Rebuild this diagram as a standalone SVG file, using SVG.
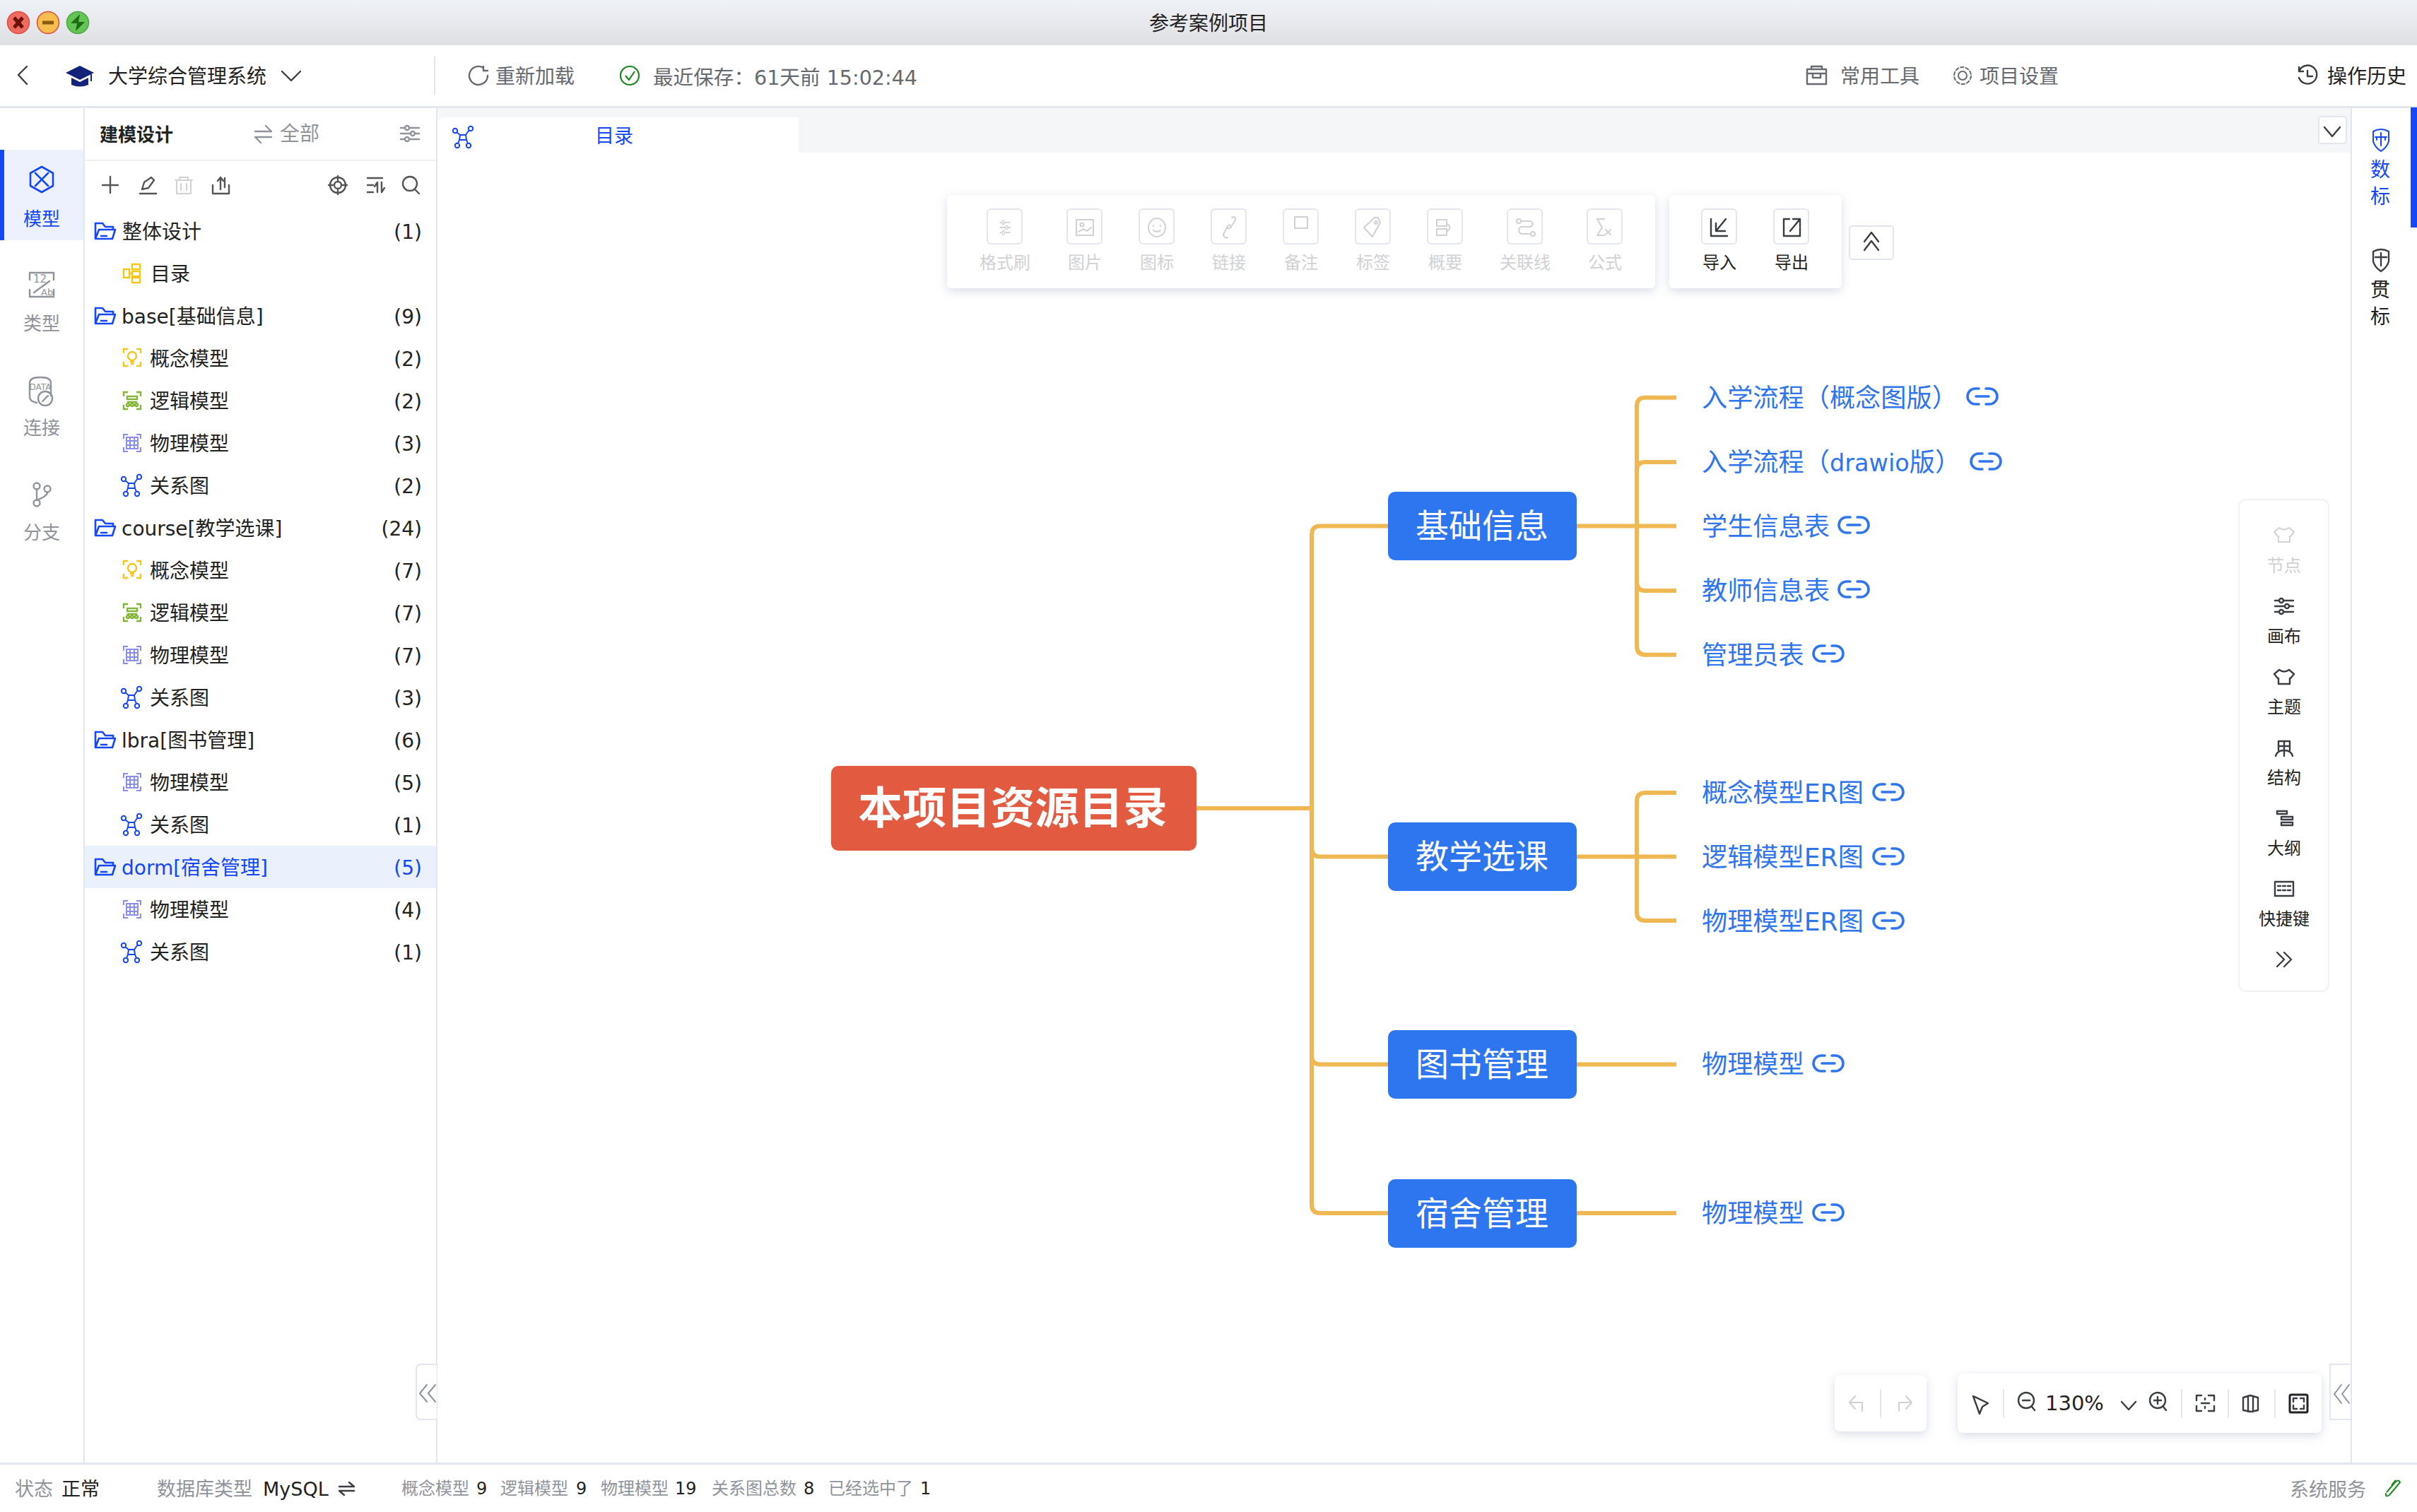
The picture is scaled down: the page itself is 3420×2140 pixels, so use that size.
<svg xmlns="http://www.w3.org/2000/svg" width="3420" height="2140" viewBox="0 0 3420 2140">
<style>
text{font-family:"DejaVu Sans","Noto Sans CJK SC",sans-serif;fill:#222}
.t28{font-size:28px}.t27{font-size:27px}.t26{font-size:26px}.t24{font-size:24px}
.g{fill:#8f949c}.mg{fill:#666a70}.lg{fill:#cfd1d5}.b{fill:#1447f5}
.c{text-anchor:middle}.r{text-anchor:end}
.leaf{font-size:36.2px;fill:#2e75ee}
.node{font-size:47px;text-anchor:middle}
.i{fill:none;stroke:#3a3d42;stroke-width:2.4;stroke-linecap:round;stroke-linejoin:round}
.ig{fill:none;stroke:#8f949c;stroke-width:2.4;stroke-linecap:round;stroke-linejoin:round}
.il{fill:none;stroke:#cfd1d5;stroke-width:2;stroke-linecap:round;stroke-linejoin:round}
.ib{fill:none;stroke:#1447f5;stroke-width:2.6;stroke-linecap:round;stroke-linejoin:round}
.btn{fill:#fff;stroke:#e3e6ef;stroke-width:2}
.conn{fill:none;stroke:#efb852;stroke-width:6}
.sep{stroke:#e3e6ef;stroke-width:2}
</style>
<defs>
<linearGradient id="tb" x1="0" y1="0" x2="0" y2="1"><stop offset="0" stop-color="#eff2f7"/><stop offset="1" stop-color="#dfe0e4"/></linearGradient>
<filter id="sh" x="-10%" y="-30%" width="120%" height="170%"><feDropShadow dx="0" dy="4" stdDeviation="7" flood-color="#aab2c8" flood-opacity=".45"/></filter>
<g id="folder"><path class="ib" d="M-14 11V-11H-4L0-6H11V-2M-14 11H10L14-2H-9Z"/><path class="ib" d="M-6 7H2"/></g>
<g id="rel" fill="none" stroke="#1447f5" stroke-width="2"><circle cx="-11" cy="-9" r="3.2"/><circle cx="11" cy="-12" r="3.200"/><circle cx="-8" cy="12" r="3.200"/><circle cx="8" cy="12" r="3.200"/><path d="M-8.500-6.500L-4-3M8.500-9.500L4-3M-4-3H4L5 4H-5ZM-5 4L-7 9M5 4L7 9"/></g>
<g id="concept" fill="none" stroke="#f5c518" stroke-width="2.400"><path d="M-12-6V-12H-6M6-12H12V-6M12 6V12H6M-6 12H-12V6"/><circle cx="0" cy="-2" r="6"/><path d="M-3 6H3M-2 9H2"/></g>
<g id="logical" fill="none" stroke="#82b536" stroke-width="2.400"><path d="M-12-6V-12H-6M6-12H12V-6M12 6V12H6M-6 12H-12V6"/><rect x="-7" y="-6" width="14" height="4"/><path d="M-7 2H7"/><circle cx="-6" cy="6" r="2"/><circle cx="0" cy="6" r="2"/><circle cx="6" cy="6" r="2"/></g>
<g id="physical" fill="none" stroke="#8a8df0" stroke-width="2"><path d="M-12-6V-12H-6M6-12H12V-6M12 6V12H6M-6 12H-12V6"/><rect x="-8" y="-8" width="16" height="16"/><path d="M-3-8V8M3-8V8M-8-3H8M-8 3H8"/></g>
<g id="link" fill="none" stroke="#2e75ee" stroke-width="3.600" stroke-linecap="round"><path d="M-5-11H-10A11 11 0 0 0-10 11H-5M5-11H10A11 11 0 0 1 10 11H5M-9 0H9"/></g>
<g id="sliders"><path d="M-13-8H13M-13 0H13M-13 8H13"/><circle cx="-4" cy="-8" r="3" fill="#fff"/><circle cx="4" cy="0" r="3" fill="#fff"/><circle cx="-4" cy="8" r="3" fill="#fff"/></g>
<g id="shirt"><path d="M-7-10Q0-5 7-10L14-4 9 2H8V10H-8V2H-9L-14-4Z"/></g>
</defs>

<g id="app-frame">
<rect width="3420" height="2140" fill="#fff"/>
<rect width="3420" height="64" fill="url(#tb)"/>
<ellipse cx="26" cy="32" rx="15.500" ry="15.500" fill="#ee6b60" stroke="#e5483b" stroke-width="1.500"/>
<path d="M20 25L32 39M32 25L20 39" stroke="#6b1208" stroke-width="5"/>
<ellipse cx="68" cy="32" rx="15.500" ry="15.500" fill="#f6bd4f" stroke="#e5483b" stroke-width="1.500"/>
<path d="M60 32H76" stroke="#8a5a10" stroke-width="5"/>
<ellipse cx="110" cy="32" rx="15.500" ry="15.500" fill="#62c554" stroke="#4aa53e" stroke-width="1.500"/>
<path d="M113 20L100 33H109L107 44 120 31H111Z" fill="#1f6b14"/>
<text class="t28 c" x="1710" y="43">参考案例项目</text>
<rect x="0" y="150" width="3420" height="3" fill="#e3e6ef"/>
<rect x="0" y="2070" width="3420" height="3" fill="#e3e6ef"/>
<rect x="118" y="153" width="2" height="1917" fill="#e3e6ef"/>
<rect x="617" y="153" width="2" height="1917" fill="#e3e6ef"/>
<rect x="3326" y="153" width="2" height="1917" fill="#e3e6ef"/>
<rect x="614" y="80" width="2" height="54" fill="#e3e6ef"/>
</g>

<g id="header">
<path class="i" d="M38 94L26 106 38 119"/>
<path d="M113 93L133 103 113 113 93 103Z" fill="#14237a"/><path d="M101 110V120Q113 125 125 120V110L113 116Z" fill="#14237a"/><path d="M129 105V115" stroke="#14237a" stroke-width="2"/>
<text class="t28" x="153" y="118">大学综合管理系统</text>
<path class="i" d="M399 101L412 114 425 101"/>
<path class="ig" style="stroke:#666a70" d="M684 96A13 13 0 1 0 690 107M684 94V100H690"/>
<text class="t28 mg" x="701" y="118">重新加载</text>
<circle cx="891" cy="107" r="13" fill="none" stroke="#1a8a1a" stroke-width="2.200"/><path d="M885 107L890 113 898 101" fill="none" stroke="#1a8a1a" stroke-width="2.200"/>
<text font-size="28.600" class="mg" x="924" y="120">最近保存：61天前 15:02:44</text>
<path class="ig" style="stroke:#666a70" d="M2557 104H2584M2557 98H2584V119H2557ZM2563 98V94H2578V98M2565 104V110H2576V104"/>
<text class="t28 mg" x="2604" y="118">常用工具</text>
<circle cx="2777" cy="107" r="6" fill="none" stroke="#666a70" stroke-width="2"/><circle cx="2777" cy="107" r="12" fill="none" stroke="#666a70" stroke-width="2" stroke-dasharray="6 1.500"/>
<text class="t28 mg" x="2801" y="118">项目设置</text>
<path class="i" d="M3254 99A13 13 0 1 1 3253 110M3253 95V101H3259M3265 100V108H3272"/>
<text class="t28" x="3293" y="118">操作历史</text>
</g>

<g id="left-rail">
<rect x="0" y="212" width="118" height="128" fill="#edf1fe"/>
<rect x="0" y="212" width="6" height="128" fill="#1447f5"/>
<path class="ib" d="M59 236L75 245V263L59 272 43 263V245Z"/><path class="ib" d="M50 245L68 263M68 245L50 263"/>
<text class="t26 c b" x="59" y="319">模型</text>
<g class="ig"><path d="M42 396V386H76V396M42 410V420H76V410M48 414L70 398"/></g>
<text x="47" y="400" font-size="15" class="g">12</text><text x="58" y="418" font-size="13" class="g">Ab</text>
<text class="t26 c g" x="59" y="467">类型</text>
<g class="ig"><path d="M42 542Q42 534 57 534 72 534 72 542V560M42 542V562Q42 568 52 570"/><circle cx="64" cy="564" r="10"/><path d="M60 568L68 560"/></g>
<text x="57" y="552" font-size="12" class="g c">DATA</text>
<text class="t26 c g" x="59" y="615">连接</text>
<g class="ig"><circle cx="52" cy="688" r="4.500"/><circle cx="52" cy="712" r="4.500"/><circle cx="67" cy="692" r="4.500"/><path d="M52 692V708M67 697Q67 702 52 708"/></g>
<text class="t26 c g" x="59" y="763">分支</text>
</g>

<g id="tree-panel">
<text class="t26" x="141" y="200" font-weight="700">建模设计</text>
<path class="ig" d="M361 186H384L376 178M384 194H361L369 202"/>
<text class="t28 g" x="396" y="199">全部</text>
<g class="ig"><use href="#sliders" x="580" y="189"/></g>
<rect x="120" y="226" width="497" height="2" fill="#eff1f4"/>
<path class="ig" style="stroke:#555" d="M156 250V273M145 262H167M198 274H221M201 268L204 258 214 251 218 255 210 266Z"/>
<path class="il" d="M248 255H272M254 255V251H266V255M250 255V274H270V255M256 260V269M264 260V269"/>
<path class="ig" style="stroke:#555" d="M301 262V274H324V262M312 251V268M308 256L312 251 316 256M318 252V265"/>
<g class="ig" style="stroke:#555"><circle cx="478" cy="262" r="11"/><circle cx="478" cy="262" r="5"/><path d="M478 249V255M478 269V275M465 262H471M485 262H491"/>
<path d="M520 252H541M520 262H528M520 272H528M534 272V258L530 264M540 258V272L544 266"/><circle cx="580" cy="260" r="10"/><path d="M587 268L593 274"/></g>
<rect x="120" y="1197" width="497" height="60" fill="#ebf0fd"/>
<g id="tree-rows">
<use href="#folder" x="149" y="327"/><text class="t28" x="173" y="338">整体设计</text><text class="t28 r" x="597" y="338">(1)</text>
<g fill="none" stroke="#f5c518" stroke-width="2.400"><rect x="175" y="381" width="8" height="12"/><rect x="187" y="374" width="11" height="7"/><rect x="187" y="384" width="11" height="7"/><rect x="187" y="393" width="11" height="7"/><path d="M183 387H187"/></g><text class="t28" x="213" y="398">目录</text>
<use href="#folder" x="149" y="447"/><text class="t28" x="172" y="458">base[基础信息]</text><text class="t28 r" x="597" y="458">(9)</text>
<use href="#concept" x="187" y="506"/><text class="t28" x="212" y="518">概念模型</text><text class="t28 r" x="597" y="518">(2)</text>
<use href="#logical" x="187" y="567"/><text class="t28" x="212" y="578">逻辑模型</text><text class="t28 r" x="597" y="578">(2)</text>
<use href="#physical" x="187" y="627"/><text class="t28" x="212" y="638">物理模型</text><text class="t28 r" x="597" y="638">(3)</text>
<use href="#rel" x="186" y="687"/><text class="t28" x="212" y="698">关系图</text><text class="t28 r" x="597" y="698">(2)</text>
<use href="#folder" x="149" y="747"/><text class="t28" x="172" y="758">course[教学选课]</text><text class="t28 r" x="597" y="758">(24)</text>
<use href="#concept" x="187" y="806"/><text class="t28" x="212" y="818">概念模型</text><text class="t28 r" x="597" y="818">(7)</text>
<use href="#logical" x="187" y="867"/><text class="t28" x="212" y="878">逻辑模型</text><text class="t28 r" x="597" y="878">(7)</text>
<use href="#physical" x="187" y="927"/><text class="t28" x="212" y="938">物理模型</text><text class="t28 r" x="597" y="938">(7)</text>
<use href="#rel" x="186" y="987"/><text class="t28" x="212" y="998">关系图</text><text class="t28 r" x="597" y="998">(3)</text>
<use href="#folder" x="149" y="1047"/><text class="t28" x="172" y="1058">lbra[图书管理]</text><text class="t28 r" x="597" y="1058">(6)</text>
<use href="#physical" x="187" y="1107"/><text class="t28" x="212" y="1118">物理模型</text><text class="t28 r" x="597" y="1118">(5)</text>
<use href="#rel" x="186" y="1167"/><text class="t28" x="212" y="1178">关系图</text><text class="t28 r" x="597" y="1178">(1)</text>
<use href="#folder" x="149" y="1227"/><text class="t28 b" x="172" y="1238">dorm[宿舍管理]</text><text class="t28 r b" x="597" y="1238">(5)</text>
<use href="#physical" x="187" y="1287"/><text class="t28" x="212" y="1298">物理模型</text><text class="t28 r" x="597" y="1298">(4)</text>
<use href="#rel" x="186" y="1347"/><text class="t28" x="212" y="1358">关系图</text><text class="t28 r" x="597" y="1358">(1)</text>
</g>
<path d="M618 1931H596Q589 1931 589 1938V2002Q589 2009 596 2009H618" class="btn"/>
<path class="ig" style="stroke-width:2" d="M604 1960L594 1972 604 1984M616 1960L606 1972 616 1984"/>
</g>

<g id="tab-bar">
<rect x="619" y="153" width="2707" height="63" fill="#f5f6f8"/>
<path d="M619 216V176Q619 166 629 166H1130V216Z" fill="#fff"/>
<use href="#rel" x="655" y="194"/>
<text class="t27 c b" x="869" y="202">目录</text>
<rect x="3281" y="165" width="39" height="38" rx="4" class="btn"/>
<path class="i" d="M3289 180L3300 193 3311 180"/>
</g>

<g id="format-toolbar">
<rect x="1340" y="276" width="1002" height="132" rx="6" fill="#fff" filter="url(#sh)"/>
<rect x="2362" y="276" width="244" height="132" rx="6" fill="#fff" filter="url(#sh)"/>
<rect x="1397" y="296" width="49" height="49" rx="5" class="btn"/><rect x="1510" y="296" width="49" height="49" rx="5" class="btn"/><rect x="1612" y="296" width="49" height="49" rx="5" class="btn"/><rect x="1714" y="296" width="49" height="49" rx="5" class="btn"/><rect x="1816" y="296" width="49" height="49" rx="5" class="btn"/><rect x="1918" y="296" width="49" height="49" rx="5" class="btn"/><rect x="2020" y="296" width="49" height="49" rx="5" class="btn"/><rect x="2133" y="296" width="49" height="49" rx="5" class="btn"/><rect x="2246" y="296" width="49" height="49" rx="5" class="btn"/><rect x="2408" y="296" width="49" height="49" rx="5" class="btn"/><rect x="2510" y="296" width="49" height="49" rx="5" class="btn"/>
<g class="il">
<use href="#sliders" transform="translate(1422 322) scale(.55 .9)"/>
<rect x="1523" y="311" width="24" height="22"/><circle cx="1531" cy="318" r="2.500"/><path d="M1526 328L1533 324 1538 327 1544 322"/>
<ellipse cx="1637" cy="322" rx="12" ry="13"/><path d="M1632 319V320M1642 319V320M1632 326Q1637 330 1642 326"/>
<path d="M1743 308Q1748 304 1748 312L1741 322Q1737 326 1737 320M1737 336Q1732 338 1731 332L1737 320Q1741 316 1742 322"/>
<rect x="1832" y="307" width="18" height="16"/>
<path d="M1930 322L1945 308H1950L1953 315 1942 335Z"/><circle cx="1947" cy="315" r="2"/>
<path d="M2033 311H2047V320H2033ZM2033 324H2047V333H2033ZM2047 316Q2056 322 2047 328"/>
<path d="M2152 313H2166Q2172 317 2166 321H2152Q2146 325 2152 331H2166"/><circle cx="2149" cy="313" r="3"/><circle cx="2169" cy="331" r="3"/>
<path d="M2270 310H2260L2267 322 2260 333H2270"/><path d="M2272 325L2279 332M2279 325L2272 332"/>
</g>
<path class="i" d="M2421 310V334H2444M2442 310L2428 327V316M2428 327H2441"/>
<path class="i" d="M2532 310H2524V334H2547V322M2533 327L2547 310M2537 310H2547V320"/>
<text class="t24 c lg" x="1422" y="380">格式刷</text><text class="t24 c lg" x="1535" y="380">图片</text><text class="t24 c lg" x="1637" y="380">图标</text><text class="t24 c lg" x="1739" y="380">链接</text><text class="t24 c lg" x="1841" y="380">备注</text><text class="t24 c lg" x="1943" y="380">标签</text><text class="t24 c lg" x="2045" y="380">概要</text><text class="t24 c lg" x="2158" y="380">关联线</text><text class="t24 c lg" x="2271" y="380">公式</text>
<text class="t24 c" x="2433" y="380">导入</text><text class="t24 c" x="2535" y="380">导出</text>
<rect x="2617" y="320" width="62" height="47" rx="4" class="btn"/>
<path class="i" d="M2638 342L2648 329 2658 342M2638 354L2648 341 2658 354"/>
</g>

<g id="connectors">
<path class="conn" d="M1693 1144H1856"/>
<path class="conn" d="M1964 744.500H1868Q1856 744.500 1856 757V1705Q1856 1717 1868 1717H1964"/>
<path class="conn" d="M1856 1200Q1856 1212.500 1868 1212.500H1964"/>
<path class="conn" d="M1856 1494Q1856 1506.500 1868 1506.500H1964"/>
<path class="conn" d="M2231 744.500H2372"/>
<path class="conn" d="M2372 562.700H2328Q2316 562.700 2316 575V914Q2316 926.700 2328 926.700H2372"/>
<path class="conn" d="M2372 654H2328Q2316 654 2316 666"/>
<path class="conn" d="M2316 824Q2316 836 2328 836H2372"/>
<path class="conn" d="M2231 1212.500H2372"/>
<path class="conn" d="M2372 1122H2328Q2316 1122 2316 1134V1291Q2316 1303 2328 1303H2372"/>
<path class="conn" d="M2231 1506.500H2372"/>
<path class="conn" d="M2231 1717H2372"/>
</g>

<g id="node-root"><rect x="1176" y="1084" width="517" height="120" rx="10" fill="#e25b41"/><text x="1433" y="1166" font-size="62.500" font-weight="700" text-anchor="middle" style="fill:#fff">本项目资源目录</text></g>
<g id="node-base"><rect x="1964" y="696" width="267" height="97" rx="10" fill="#2d76f0"/><text class="node" x="2097" y="761" style="fill:#fff">基础信息</text></g>
<g id="node-course"><rect x="1964" y="1164" width="267" height="97" rx="10" fill="#2d76f0"/><text class="node" x="2097" y="1229" style="fill:#fff">教学选课</text></g>
<g id="node-lbra"><rect x="1964" y="1458" width="267" height="97" rx="10" fill="#2d76f0"/><text class="node" x="2097" y="1523" style="fill:#fff">图书管理</text></g>
<g id="node-dorm"><rect x="1964" y="1669" width="267" height="97" rx="10" fill="#2d76f0"/><text class="node" x="2097" y="1734" style="fill:#fff">宿舍管理</text></g>

<g id="leaf-1"><text class="leaf" x="2408" y="576">入学流程（概念图版）</text><use href="#link" x="2805" y="561"/></g>
<g id="leaf-2"><text class="leaf" x="2408" y="667">入学流程（<tspan font-size="33.500">drawio</tspan>版）</text><use href="#link" x="2810" y="653"/></g>
<g id="leaf-3"><text class="leaf" x="2408" y="758">学生信息表</text><use href="#link" x="2623" y="743"/></g>
<g id="leaf-4"><text class="leaf" x="2408" y="849">教师信息表</text><use href="#link" x="2623" y="834"/></g>
<g id="leaf-5"><text class="leaf" x="2408" y="940">管理员表</text><use href="#link" x="2587" y="925"/></g>
<g id="leaf-6"><text class="leaf" x="2408" y="1135">概念模型ER图</text><use href="#link" x="2672" y="1121"/></g>
<g id="leaf-7"><text class="leaf" x="2408" y="1226">逻辑模型ER图</text><use href="#link" x="2672" y="1212"/></g>
<g id="leaf-8"><text class="leaf" x="2408" y="1317">物理模型ER图</text><use href="#link" x="2672" y="1303"/></g>
<g id="leaf-9"><text class="leaf" x="2408" y="1519">物理模型</text><use href="#link" x="2587" y="1505"/></g>
<g id="leaf-10"><text class="leaf" x="2408" y="1730">物理模型</text><use href="#link" x="2587" y="1716"/></g>

<g id="side-tools">
<rect x="3168" y="707" width="127" height="696" rx="10" fill="#fff" stroke="#f0f1f3" stroke-width="2"/>
<g class="il"><use href="#shirt" x="3232" y="757"/></g>
<text class="t24 c lg" x="3232" y="809">节点</text>
<g class="i"><use href="#sliders" x="3232" y="858"/></g>
<text class="t24 c" x="3232" y="909">画布</text>
<g class="i"><use href="#shirt" x="3232" y="958"/></g>
<text class="t24 c" x="3232" y="1009">主题</text>
<path class="i" d="M3224 1062V1049H3240V1062M3224 1056H3240M3232 1049V1070M3232 1062Q3222 1062 3220 1070M3232 1062Q3242 1062 3244 1070"/>
<text class="t24 c" x="3232" y="1109">结构</text>
<path class="i" d="M3222 1148H3236V1152H3222ZM3228 1156H3244V1160H3228ZM3228 1164H3244V1168H3228Z"/>
<text class="t24 c" x="3232" y="1209">大纲</text>
<path class="i" d="M3219 1248H3245V1268H3219ZM3223 1254H3227M3230 1254H3234M3237 1254H3241M3223 1260H3227M3230 1260H3234M3237 1260H3241"/>
<text class="t24 c" x="3232" y="1309">快捷键</text>
<path class="i" d="M3222 1348L3232 1358 3222 1368M3232 1348L3242 1358 3232 1368"/>
</g>

<g id="right-rail">
<rect x="3411" y="152" width="9" height="170" fill="#1447f5"/>
<path class="ib" style="stroke-width:2" d="M3358 186Q3369 180 3380 186V200Q3378 208 3369 214 3360 208 3358 200Z"/><path class="ib" style="stroke-width:2" d="M3361 194H3377M3369 188V206M3363 194V198M3375 194V198"/>
<text class="t28 c b" x="3368" y="250">数</text><text class="t28 c b" x="3368" y="288">标</text>
<path class="i" d="M3358 356Q3369 350 3380 356V370Q3378 378 3369 384 3360 378 3358 370Z"/><path class="i" d="M3361 364H3377M3369 358V376"/>
<text class="t28 c" x="3368" y="420">贯</text><text class="t28 c" x="3368" y="458">标</text>
</g>

<g id="zoom-controls">
<rect x="2596" y="1946" width="130" height="80" rx="8" fill="#fff" filter="url(#sh)"/>
<rect x="2770" y="1944" width="515" height="84" rx="8" fill="#fff" filter="url(#sh)"/>
<path class="il" d="M2635 1997V1985H2618M2625 1976L2617 1985 2625 1994M2687 1997V1985H2705M2697 1976L2705 1985 2697 1994"/>
<path class="sep" d="M2661 1966V2006M2835 1966V2006M3087 1966V2006M3153 1966V2006M3219 1966V2006"/>
<path class="i" d="M2792 1976L2813 1986 2805 1991 2801 2001Z"/>
<circle class="i" cx="2867" cy="1982" r="11"/><path class="i" d="M2862 1982H2872M2875 1991L2879 1996"/>
<text font-size="29" x="2894" y="1996">130%</text>
<path class="i" d="M3002 1984L3012 1995 3022 1984"/>
<circle class="i" cx="3053" cy="1982" r="11"/><path class="i" d="M3048 1982H3058M3053 1977V1987M3061 1991L3065 1996"/>
<path class="i" d="M3108 1982V1975H3115M3125 1975H3133V1982M3133 1990V1997H3125M3115 1997H3108V1990M3115 1986H3126M3120 1979V1981M3120 1991V1993"/>
<path class="i" d="M3174 1978L3184 1975 3195 1978V1996L3185 1998 3174 1996ZM3181 1976V1998M3188 1976V1998"/>
<rect x="3240" y="1974" width="25" height="25" rx="2" fill="none" stroke="#222" stroke-width="3"/><path class="i" d="M3245 1984V1979H3250M3255 1979H3260V1984M3260 1989V1994H3255M3250 1994H3245V1989"/>
<path d="M3326 1931H3297V2009H3326" class="btn"/>
<path class="ig" style="stroke-width:2" d="M3313 1960L3303 1973 3313 1986M3324 1960L3314 1973 3324 1986"/>
</g>

<g id="status-bar">
<text class="t27 g" x="21" y="2117">状态</text><text class="t27" x="87" y="2117">正常</text>
<text class="t27 g" x="222" y="2117">数据库类型</text><text class="t27" x="372" y="2117">MySQL</text>
<path class="i" d="M480 2104H501L494 2098M501 2110H480L487 2116"/>
<text class="t24 g" x="568" y="2115">概念模型</text><text class="t24" x="674" y="2115">9</text>
<text class="t24 g" x="708" y="2115">逻辑模型</text><text class="t24" x="815" y="2115">9</text>
<text class="t24 g" x="850" y="2115">物理模型</text><text class="t24" x="955" y="2115">19</text>
<text class="t24 g" x="1007" y="2115">关系图总数</text><text class="t24" x="1137" y="2115">8</text>
<text class="t24 g" x="1172" y="2115">已经选中了</text><text class="t24" x="1302" y="2115">1</text>
<text class="t27 g" x="3240" y="2118">系统服务</text>
<path d="M3377 2112L3389 2098Q3394 2093 3396 2098L3381 2116Q3375 2120 3376 2113M3384 2102L3390 2095" fill="none" stroke="#1a8a1a" stroke-width="2"/>
</g>
</svg>
